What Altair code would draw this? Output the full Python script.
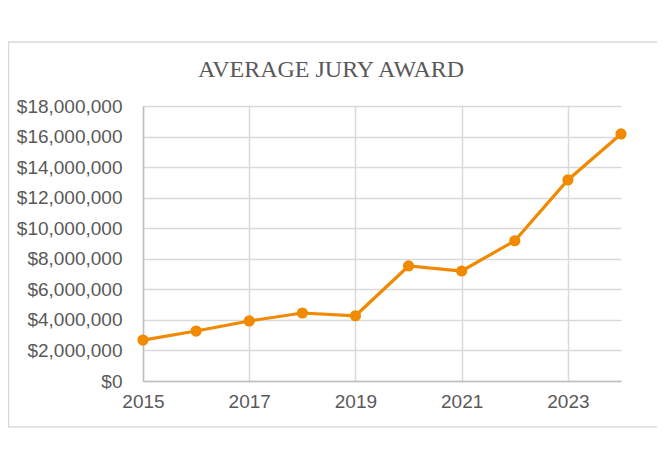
import altair as alt
import pandas as pd

years = [2015, 2016, 2017, 2018, 2019, 2020, 2021, 2022, 2023, 2024]
awards = [2680000, 3270000, 3930000, 4450000, 4270000, 7530000, 7200000, 9180000, 13160000, 16170000]
x_ticks = [2015, 2017, 2019, 2021, 2023]
y_ticks = [0, 2000000, 4000000, 6000000, 8000000, 10000000, 12000000, 14000000, 16000000, 18000000]
title_text = "AVERAGE JURY AWARD"

df = pd.DataFrame({"year": years, "award": awards})

W, H = 478, 275
LINE_COLOR = "#F08A00"
TEXT_COLOR = "#595959"

x_enc = alt.X("year:Q",
              scale=alt.Scale(domain=[2015, 2024], nice=False, zero=False),
              axis=alt.Axis(values=x_ticks, format="d", title=None, grid=True,
                            gridColor="#d9d9d9", gridWidth=1.5, ticks=False,
                            domainColor="#bfbfbf", domainWidth=1.5,
                            labelFontSize=19, labelColor=TEXT_COLOR,
                            labelFont="Liberation Sans", labelPadding=11,
                            labelFlush=False, labelOverlap=False, labelBound=False))
y_enc = alt.Y("award:Q",
              scale=alt.Scale(domain=[0, 18000000], nice=False),
              axis=alt.Axis(values=y_ticks, format="$,.0f", title=None, grid=True,
                            gridColor="#d9d9d9", gridWidth=1.5, ticks=False,
                            domainColor="#bfbfbf", domainWidth=1.5,
                            labelFontSize=19, labelColor=TEXT_COLOR,
                            labelFont="Liberation Sans", labelPadding=21,
                            labelFlush=False, labelOverlap=False, labelBound=False))

base = alt.Chart(df).encode(x=x_enc, y=y_enc)
line = base.mark_line(color=LINE_COLOR, strokeWidth=3.2)
points = base.mark_point(color=LINE_COLOR, filled=True, opacity=1, size=125)

one = alt.Data(values=[{"a": 1}])
border = alt.Chart(one).mark_rect(fill=None, stroke="#d9d9d9", strokeWidth=1.5).encode(
    x=alt.value(-134.5), x2=alt.value(517), y=alt.value(-64), y2=alt.value(321))
title = alt.Chart(one).mark_text(font="Liberation Serif", fontSize=24, color=TEXT_COLOR,
                                 align="center", baseline="middle").encode(
    x=alt.value(188), y=alt.value(-36), text=alt.value(title_text))

chart = alt.layer(line, points, border, title).properties(
    width=W, height=H,
    autosize=alt.AutoSizeParams(type="none"),
    padding={"left": 135, "top": 98, "right": 36, "bottom": 82},
    background="white",
).configure_view(stroke=None)

chart.save("out.html", embed_options={"renderer": "svg", "actions": False})
